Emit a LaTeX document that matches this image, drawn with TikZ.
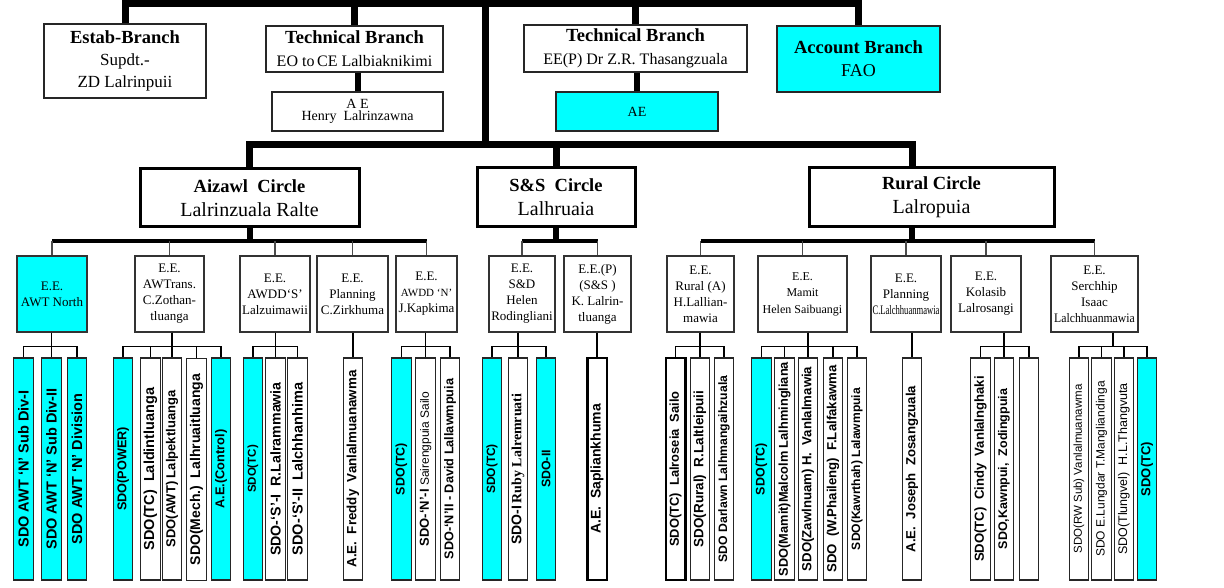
\documentclass[tikz,border=0pt]{standalone}
\usepackage{fontspec}
\usepackage{graphicx}
\setmainfont{Liberation Serif}
\newfontfamily\sdofont{Liberation Sans}
\usetikzlibrary{positioning}
\definecolor{aqua}{RGB}{0,255,255}
\newcommand{\bhead}[1]{{\bfseries\fontsize{18.5}{22}\selectfont #1}}
\tikzset{
  branchbox/.style={draw=black!85, line width=1.6pt, fill=white, align=center, inner sep=0pt, font=\fontsize{17}{22}\selectfont},
  circlebox/.style={draw, line width=3pt, fill=white, align=center, inner sep=0pt, font=\fontsize{20}{24}\selectfont},
  eebox/.style={draw=black!80, line width=1.2pt, fill=white, align=center, inner sep=0pt, minimum height=76, font=\fontsize{13}{16}\selectfont},
  sdobox/.style={draw=black!85, line width=1.3pt, fill=white, rotate=90, inner sep=0pt, minimum width=222, minimum height=19.5, font=\sdofont\bfseries\fontsize{#1}{#1}\selectfont},
  sdobox/.default=13,
  mainline/.style={line width=7pt},
  stemline/.style={line width=6pt},
  barline/.style={line width=4.5pt},
  linkline/.style={draw=black!70, line width=1.3pt},
  treeline/.style={line width=1.4pt}
}
\begin{document}
\begin{tikzpicture}[x=1pt, y=-1pt]
\useasboundingbox (0,0) rectangle (1224,588);
% levels of the horizontal bars
\coordinate (top) at (485,0);
\coordinate (r0) at (0,3.5);
\coordinate (r1) at (0,145);
\coordinate (r2) at (0,241);

% branches
\node[branchbox, minimum width=162, minimum height=74] (b1) at (125,61) {\bhead{Estab-Branch}\\Supdt.-\\ZD Lalrinpuii};
\node[branchbox, minimum width=177, minimum height=46, font=\fontsize{16}{23}\selectfont] (b2) at (354.5,49) {\bhead{Technical Branch}\\EO to\,CE Lalbiaknikimi};
\node[branchbox, minimum width=223, minimum height=47, font=\fontsize{16}{23}\selectfont] (b3) at (635.5,48.5) {\bhead{Technical Branch}\\EE(P) Dr Z.R. Thasangzuala};
\node[branchbox, fill=aqua, minimum width=163, minimum height=66, font=\fontsize{18}{23}\selectfont] (b4) at (858.5,59) {\bhead{Account Branch}\\FAO};
\node[branchbox, minimum width=171, minimum height=39, font=\fontsize{14}{12.5}\selectfont] (a1) at (357.5,111.5) {A E\\Henry\ \ Lalrinzawna};
\node[branchbox, fill=aqua, minimum width=162, minimum height=39, font=\fontsize{14}{14}\selectfont] (a2) at (637,111.5) {AE};

% circles
\node[circlebox, minimum width=219, minimum height=58] (c1) at (249.5,198) {\bhead{Aizawl\ \ Circle}\\Lalrinzuala Ralte};
\node[circlebox, minimum width=158, minimum height=59] (c2) at (556,197.5) {\bhead{S\&S\ \ Circle}\\Lalhruaia};
\node[circlebox, minimum width=245, minimum height=59] (c3) at (931.5,197.5) {\bhead{Rural Circle}\\Lalropuia};

% executive engineers
\node[eebox, fill=aqua, minimum width=70] (e1) at (52,294) {E.E.\\AWT North};
\node[eebox, minimum width=69] (e2) at (169.5,294) {E.E.\\AWTrans.\\C.Zothan-\\tluanga};
\node[eebox, minimum width=70] (e3) at (275,294) {E.E.\\AWDD‘S’\\Lalzuimawii};
\node[eebox, minimum width=71] (e4) at (352.5,294) {E.E.\\Planning\\C.Zirkhuma};
\node[eebox, minimum width=61] (e5) at (426.5,294) {E.E.\\{\fontsize{11}{16}\selectfont AWDD ‘N’}\\J.Kapkima};
\node[eebox, minimum width=66] (e6) at (522,294) {E.E.\\S\&D\\Helen\\Rodingliani};
\node[eebox, minimum width=67] (e7) at (597.5,294) {E.E.(P)\\(S\&S )\\K. Lalrin-\\tluanga};
\node[eebox, minimum width=67] (e8) at (700.5,294) {E.E.\\Rural (A)\\H.Lallian-\\mawia};
\node[eebox, minimum width=89, font=\fontsize{12}{16.5}\selectfont] (e9) at (802.5,294) {E.E.\\Mamit\\Helen Saibuangi};
\node[eebox, minimum width=70] (e10) at (906,294) {E.E.\\Planning\\\scalebox{0.66}[1]{C.Lalchhuanmawia}};
\node[eebox, minimum width=70] (e11) at (986,294) {E.E.\\Kolasib\\Lalrosangi};
\node[eebox, minimum width=87] (e12) at (1094.5,294) {E.E.\\Serchhip\\Isaac\\\scalebox{0.9}[1]{Lalchhuanmawia}};

% sub divisions
\node[sdobox=14.5, fill=aqua] (s1) at (23.5,469) {SDO AWT ‘N’ Sub Div-I};
\node[sdobox=14.5, fill=aqua] (s2) at (51.5,469) {SDO AWT ‘N’ Sub Div-II};
\node[sdobox=14.5, fill=aqua] (s3) at (77,469) {SDO AWT ‘N’ Division};
\node[sdobox=12.7, fill=aqua] (s4) at (123,469) {SDO(POWER)};
\node[sdobox=14.5] (s5) at (150.5,469) {SDO(TC)\ \ Laldintluanga};
\node[sdobox=13] (s6) at (172,469) {SDO(AWT) Lalpektluanga};
\node[sdobox=14] (s7) at (196.5,469.5) {SDO(Mech.)\ \ Lalhruaitluanga};
\node[sdobox=12.8, fill=aqua] (s8) at (221,469) {A.E.(Control)};
\node[sdobox=11.5, fill=aqua] (s9) at (253,469) {SDO(TC)};
\node[sdobox=14.2] (s10) at (275.5,469) {SDO-‘S’-I\ \ R.Lalrammawia};
\node[sdobox=14.5] (s11) at (297.5,469) {SDO-‘S’-II\ \ Lalchhanhima};
\node[sdobox=13.4] (s12) at (353,469) {A.E.\ \ Freddy\ \ Vanlalmuanawma};
\node[sdobox=12.5, fill=aqua] (s13) at (401.5,469) {SDO(TC)};
\node[sdobox=13] (s14) at (425.5,469) {SDO-‘N’-I {\mdseries\fontsize{12}{12}\selectfont Sairengpuia Sailo}};
\node[sdobox=12.7] (s15) at (450,469) {SDO-‘N’II - David Lallawmpuia};
\node[sdobox=12, fill=aqua] (s16) at (492,469) {SDO(TC)};
\node[sdobox=14] (s17) at (518,469) {SDO-I\,{\rmfamily Ruby Lalremruati}};
\node[sdobox=12.4, fill=aqua] (s18) at (546,469) {SDO-II};
\node[sdobox=14, draw=black, line width=2.5pt] (s19) at (597,469) {A.E.\ \ Sapliankhuma};
\node[sdobox=12.9, draw=black, line width=2.5pt] (s20) at (675.5,469) {SDO(TC)\ \ Lalroseia\ \ Sailo};
\node[sdobox=13.5] (s21) at (700,469) {SDO(Rural)\ \ R.Laltleipuii};
\node[sdobox=12.2] (s22) at (724,469) {SDO Darlawn Lalhmangaihzuala};
\node[sdobox=12.5, fill=aqua] (s23) at (761.5,469) {SDO(TC)};
\node[sdobox=12.8] (s24) at (784.5,469) {SDO(Mamit)Malcolm Lalhmingliana};
\node[sdobox=13.2] (s25) at (808,469) {SDO(Zawlnuam) H.\ \ Vanlalmawia};
\node[sdobox=13.2] (s26) at (833,469) {SDO\ \ (W.Phaileng)\ \ F.Lalfakawma};
\node[sdobox=12.1] (s27) at (857,469) {SDO(Kawrthah) Lalawmpuia};
\node[sdobox=13.2] (s28) at (912,469) {A.E.\ \ Joseph\ \ Zosangzuala};
\node[sdobox=13.1] (s29) at (980.5,469) {SDO(TC)\ \ Cindy\ \ Vanlalnghaki};
\node[sdobox=12.5] (s30) at (1004,469) {SDO,Kawnpui,\ \ Zodingpuia};
\node[sdobox] (s31) at (1029,469) {};
\node[sdobox=11.5] (s32) at (1079,469) {\mdseries SDO(RW Sub) Vanlalmuanawma};
\node[sdobox=12] (s33) at (1101.5,469) {\mdseries SDO E.Lungdar T.Mangliandinga};
\node[sdobox=12.5] (s34) at (1124,469) {\mdseries SDO(Tlungvel)\ \ H.L.Thangvuta};
\node[sdobox=13, fill=aqua] (s35) at (1147,469) {SDO(TC)};

% top lines
\draw[mainline] (b1.north) -- (b1.north |- r0) -- (b4.north |- r0) -- (b4.north);
\draw[mainline] (b2.north) -- (b2.north |- r0);
\draw[mainline] (b3.north) -- (b3.north |- r0);
\draw[stemline] (a1.north) -- (a1.north |- b2.south);
\draw[stemline] (a2.north) -- (a2.north |- b3.south);
\draw[mainline] (top) -- (top |- r1);
\draw[mainline] (c1.north) -- (c1.north |- r1) -- ([xshift=-19.5pt]c3.north |- r1) -- ([xshift=-19.5pt]c3.north);
\draw[mainline] (c2.north) -- (c2.north |- r1);

% circles to executive engineers
\draw[stemline] (c1.south) -- (c1.south |- r2);
\draw[stemline] (c2.south) -- (c2.south |- r2);
\draw[stemline] ([xshift=-19.5pt]c3.south) -- ([xshift=-19.5pt]c3.south |- r2);
\draw[barline] (e1.north |- r2) -- (e5.north |- r2);
\draw[barline] (e6.north |- r2) -- (e7.north |- r2);
\draw[barline] (e8.north |- r2) -- (e12.north |- r2);
\draw[linkline] (e1.north |- r2) -- (e1.north);
\draw[linkline] (e2.north |- r2) -- (e2.north);
\draw[linkline] (e3.north |- r2) -- (e3.north);
\draw[linkline] (e4.north |- r2) -- (e4.north);
\draw[linkline] (e5.north |- r2) -- (e5.north);
\draw[linkline] (e6.north |- r2) -- (e6.north);
\draw[linkline] (e7.north |- r2) -- (e7.north);
\draw[linkline] (e8.north |- r2) -- (e8.north);
\draw[linkline] (e9.north |- r2) -- (e9.north);
\draw[linkline] (e10.north |- r2) -- (e10.north);
\draw[linkline] (e11.north |- r2) -- (e11.north);
\draw[linkline] (e12.north |- r2) -- (e12.north);

% executive engineers to sub divisions
\draw[treeline] (e1.south -| s2.east) -- ++(0,14) -| (s1.east);
\draw[treeline] (e1.south -| s2.east) -- (s2.east);
\draw[treeline] (e1.south -| s2.east) -- ++(0,14) -| (s3.east);
\draw[treeline] (e2.south -| s6.east) -- ++(0,14) -| (s4.east);
\draw[treeline] (e2.south -| s6.east) -- ++(0,14) -| (s5.east);
\draw[treeline] (e2.south -| s6.east) -- (s6.east);
\draw[treeline] (e2.south -| s6.east) -- ++(0,14) -| (s7.east);
\draw[treeline] (e2.south -| s6.east) -- ++(0,14) -| (s8.east);
\draw[treeline] (e3.south -| s10.east) -- ++(0,14) -| (s9.east);
\draw[treeline] (e3.south -| s10.east) -- (s10.east);
\draw[treeline] (e3.south -| s10.east) -- ++(0,14) -| (s11.east);
\draw[treeline] (e4.south -| s12.east) -- (s12.east);
\draw[treeline] (e5.south -| s14.east) -- ++(0,14) -| (s13.east);
\draw[treeline] (e5.south -| s14.east) -- (s14.east);
\draw[treeline] (e5.south -| s14.east) -- ++(0,14) -| (s15.east);
\draw[treeline] (e6.south -| s17.east) -- ++(0,14) -| (s16.east);
\draw[treeline] (e6.south -| s17.east) -- (s17.east);
\draw[treeline] (e6.south -| s17.east) -- ++(0,14) -| (s18.east);
\draw[treeline] (e7.south -| s19.east) -- (s19.east);
\draw[treeline] (e8.south -| s21.east) -- ++(0,14) -| (s20.east);
\draw[treeline] (e8.south -| s21.east) -- (s21.east);
\draw[treeline] (e8.south -| s21.east) -- ++(0,14) -| (s22.east);
\draw[treeline] (e9.south -| s25.east) -- ++(0,14) -| (s23.east);
\draw[treeline] (e9.south -| s25.east) -- ++(0,14) -| (s24.east);
\draw[treeline] (e9.south -| s25.east) -- (s25.east);
\draw[treeline] (e9.south -| s25.east) -- ++(0,14) -| (s26.east);
\draw[treeline] (e9.south -| s25.east) -- ++(0,14) -| (s27.east);
\draw[treeline] (e10.south -| s28.east) -- (s28.east);
\draw[treeline] (e11.south -| s30.east) -- ++(0,14) -| (s29.east);
\draw[treeline] (e11.south -| s30.east) -- (s30.east);
\draw[treeline] (e11.south -| s30.east) -- ++(0,14) -| (s31.east);
\draw[treeline] ([xshift=18.5pt]e12.south) -- ++(0,14) -| (s32.east);
\draw[treeline] ([xshift=18.5pt]e12.south) -- ++(0,14) -| (s33.east);
\draw[treeline] ([xshift=18.5pt]e12.south) -- ++(0,14) -| (s34.east);
\draw[treeline] ([xshift=18.5pt]e12.south) -- ++(0,14) -| (s35.east);
\end{tikzpicture}
\end{document}
